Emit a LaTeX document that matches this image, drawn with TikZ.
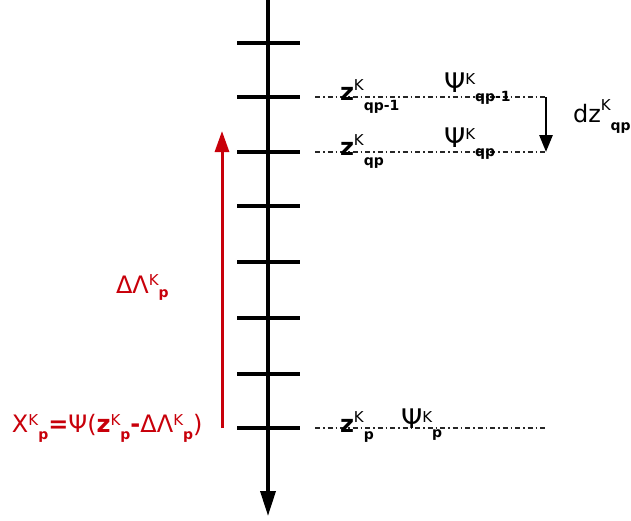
\documentclass[tikz,border=0pt]{standalone}
\usepackage{fontspec}
\setmainfont{DejaVu Sans}
\usetikzlibrary{arrows.meta}
\definecolor{dred}{RGB}{200,0,10}
\newcommand\supx[2][10pt]{\raisebox{#1}{\fontsize{15}{15}\selectfont\mdseries #2}}
\newcommand\subx[2][-8pt]{\raisebox{#1}{\fontsize{14}{14}\selectfont\bfseries #2}}
\newcommand\bigf{\fontsize{24}{24}\selectfont}
\newcommand\Psibig{{\fontsize{27}{27}\selectfont Ψ}}
\begin{document}
\begin{tikzpicture}[x=1pt,y=-1pt,
  axisline/.style={line width=3.5pt,-{Triangle[length=25pt,width=15pt]}},
  tickline/.style={line width=3.5pt},
  dashdot/.style={line width=1.1pt,black!85,dash pattern=on 5pt off 3pt on 1.5pt off 3pt},
  lbl/.style={anchor=base west,inner sep=0pt,outer sep=0pt},
  redlbl/.style={lbl,text=dred}]
\useasboundingbox (0,0) rectangle (631,520);
% axis
\coordinate (top) at (268,0);
\coordinate (bot) at (268,516);
\draw[axisline] (top) -- (bot);
\foreach \y in {43,97,152,206,262,318,374,428}
  \draw[tickline] (237,\y) -- (300,\y);
% dash-dot guide lines
\coordinate (a1) at (315,97);  \coordinate (b1) at (546,97);
\coordinate (a2) at (315,152); \coordinate (b2) at (546,152);
\coordinate (a3) at (315,428); \coordinate (b3) at (546,428);
\draw[dashdot] (a1) -- (b1);
\draw[dashdot] (a2) -- (b2);
\draw[dashdot] (a3) -- (b3);
% dz arrow
\draw[line width=2.8pt,-{Triangle[length=17pt,width=13pt]}] (b1) -- (b2);
% red arrow
\coordinate (r0) at (222,428);
\coordinate (r1) at (222,131);
\draw[dred,line width=3pt,-{Triangle[length=21pt,width=14pt]}] (r0) -- (r1);
% labels
\node[lbl] (z1) at (340,100) {\bigf\bfseries z\supx[10pt]{K}\subx[-10pt]{qp-1}};
\node[lbl] (p1) at (444,92) {\bigf\Psibig\supx[8pt]{K}\subx[-9pt]{qp-1}};
\node[lbl] (z2) at (340,155) {\bigf\bfseries z\supx[10pt]{K}\subx[-10pt]{qp}};
\node[lbl] (p2) at (444,147) {\bigf\Psibig\supx[8pt]{K}\subx[-9pt]{qp}};
\node[lbl] (dz) at (573,122) {\bigf dz\supx[12pt]{K}\subx[-8pt]{qp}};
\node[lbl] (z3) at (340,432) {\bigf\bfseries z\supx[10pt]{K}\subx[-7pt]{p}};
\node[lbl] (p3) at (401,428) {\bigf\Psibig\supx[6pt]{K}\subx[-9pt]{p}};
\node[redlbl] (dl) at (116,293) {\bigf ΔΛ\supx[8pt]{K}\subx[-4pt]{p}};
\node[redlbl] (fx) at (12,432) {\bigf X\supx[7pt]{K}\subx[-7pt]{p}\textbf{=}Ψ(\textbf{z}\supx[7pt]{K}\subx[-7pt]{p}\textbf{-}ΔΛ\supx[7pt]{K}\subx[-7pt]{p})};
\end{tikzpicture}
\end{document}
